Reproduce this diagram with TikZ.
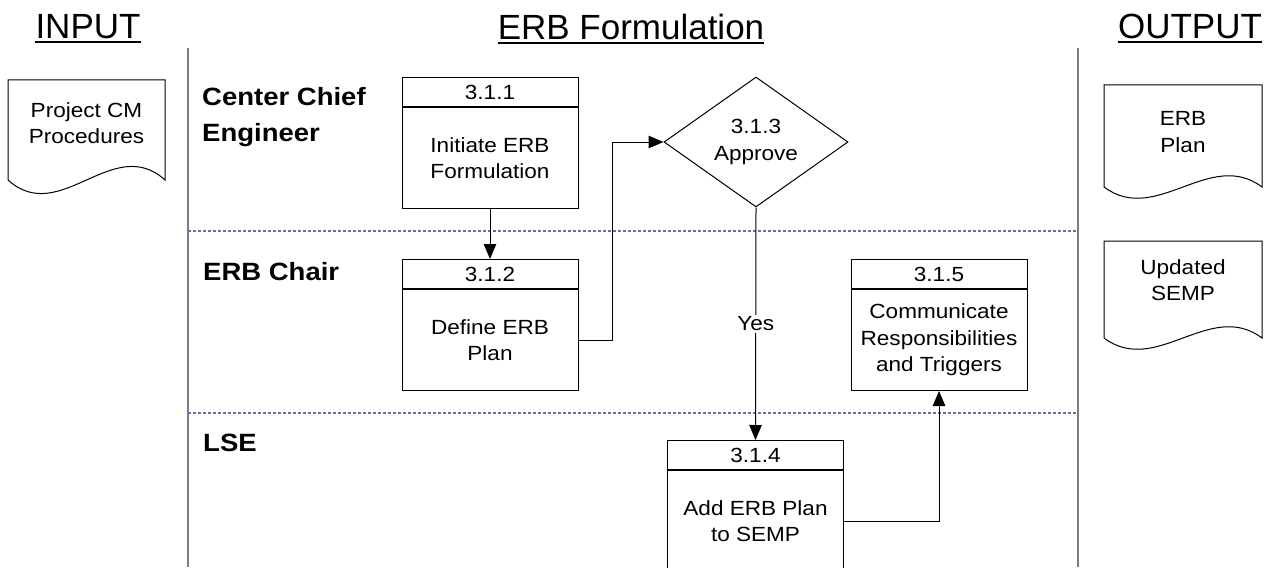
\documentclass[tikz,border=0pt]{standalone}
\usepackage{fontspec}
\setmainfont{Liberation Sans}[FakeStretch=1.1]
\newfontfamily\titlefont{Liberation Sans}
\usetikzlibrary{shapes.geometric,arrows.meta,calc}
\definecolor{lanegray}{RGB}{125,125,125}
\definecolor{dashblue}{RGB}{105,105,170}
\tikzset{
  bodyfont/.style={font=\fontsize{20.5}{26.5}\selectfont},
  hdr/.style={draw, line width=1pt, minimum width=176pt, minimum height=29pt, inner sep=0pt, anchor=north, bodyfont},
  bdy/.style={draw, line width=1pt, minimum width=176pt, minimum height=101pt, inner sep=0pt, anchor=north, align=center, bodyfont},
  dia/.style={draw, line width=1pt, shape=diamond, minimum width=184pt, minimum height=130pt, inner sep=0pt, aspect=1.415, align=center, bodyfont},
  doctext/.style={align=center, inner sep=0pt, bodyfont},
  docline/.style={draw, line width=1pt},
  lanelabel/.style={align=left, inner sep=0pt, anchor=north west, font=\bfseries\fontsize{25}{36}\selectfont},
  titletext/.style={inner sep=0pt, anchor=base, font=\titlefont\fontsize{35}{40}\selectfont},
  uline/.style={line width=2pt},
  lane/.style={draw=lanegray, line width=1.4pt},
  sep/.style={draw=dashblue, line width=1.3pt, dash pattern=on 3pt off 2pt},
  arr/.style={draw, line width=1pt, -{Triangle[length=15pt,width=12.5pt]}},
  yes/.style={fill=white, inner sep=2pt, bodyfont},
}
\begin{document}
\begin{tikzpicture}[x=1pt, y=-1pt]
\useasboundingbox (0,0) rectangle (1265,567);

% titles
\node[titletext] (tin) at (88,39) {INPUT};
\node[titletext] (tmid) at (631,40) {ERB Formulation};
\node[titletext] (tout) at (1190,39) {OUTPUT};
\foreach \t in {tin,tmid,tout}{
  \draw[uline] ([yshift=-3.5pt]\t.base west) -- ([yshift=-3.5pt]\t.base east);
}

% swimlane lines
\coordinate (l1t) at (188,48);
\coordinate (l1b) at (188,567);
\coordinate (l2t) at (1078,48);
\coordinate (l2b) at (1078,567);
\draw[lane] (l1t) -- (l1b);
\draw[lane] (l2t) -- (l2b);
\coordinate (s1a) at (188,231);
\coordinate (s1b) at (1078,231);
\coordinate (s2a) at (188,413);
\coordinate (s2b) at (1078,413);
\draw[sep] (s1a) -- (s1b);
\draw[sep] (s2a) -- (s2b);

% lane labels
\node[lanelabel] (lcce) at (202,87) {Center Chief\\Engineer};
\node[lanelabel] (lerb) at (203,262) {ERB Chair};
\node[lanelabel] (llse) at (203,434) {LSE};

% documents
\draw[docline] (8,180) -- (8,80) -- (165,80) -- (165,180)
  .. controls (113,133) and (60,227) .. (8,180) -- cycle;
\node[doctext] (dproj) at (86.5,123) {Project CM\\Procedures};
\draw[docline] (1104,187) -- (1104,85) -- (1262,85) -- (1262,187)
  .. controls (1210,148) and (1156,226) .. (1104,187) -- cycle;
\node[doctext] (dplan) at (1183,132) {ERB\\Plan};
\draw[docline] (1104,338) -- (1104,241) -- (1262,241) -- (1262,338)
  .. controls (1210,299) and (1156,377) .. (1104,338) -- cycle;
\node[doctext] (dsemp) at (1183,280) {Updated\\SEMP};

% process boxes
\node[hdr] (h311) at (490,77) {3.1.1};
\node[bdy] (b311) at (h311.south) {Initiate ERB\\Formulation};
\node[hdr] (h312) at (490,259) {3.1.2};
\node[bdy] (b312) at (h312.south) {Define ERB\\Plan};
\node[hdr] (h315) at (939,259) {3.1.5};
\node[bdy] (b315) at (h315.south) {Communicate\\Responsibilities\\and Triggers};
\node[hdr] (h314) at (755.5,440) {3.1.4};
\node[bdy] (b314) at (h314.south) {Add ERB Plan\\to SEMP};

% decision
\node[dia] (d313) at (756,142) {3.1.3\\Approve};

% connectors
\draw[arr] (b311.south) -- (h312.north);
\draw[arr] (b312.east) -- ++(34,0) |- (d313.west);
\draw[arr] (d313.south) -- node[yes] (lyes) {Yes} (h314.north);
\draw[arr] (b314.east) -| (b315.south);
\end{tikzpicture}
\end{document}
